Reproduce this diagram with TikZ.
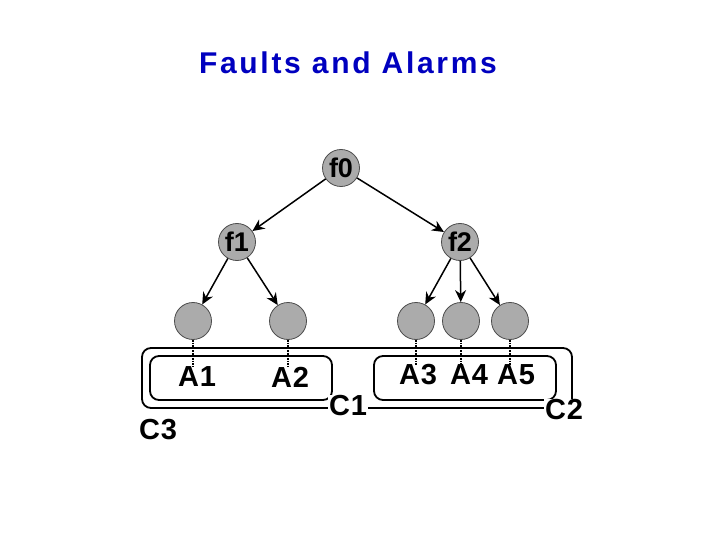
\documentclass[tikz,border=0pt]{standalone}
\usepackage{fontspec}
\setmainfont{Liberation Sans}
\usetikzlibrary{arrows.meta}
\begin{document}
\begin{tikzpicture}[x=1pt,y=-1pt,
 nd/.style={circle,fill=black!33,draw=black!70,line width=0.8pt,minimum size=37pt,inner sep=0pt,font=\bfseries\fontsize{27}{27}\selectfont},
 lab/.style={font=\bfseries\fontsize{29}{29}\selectfont\addfontfeature{LetterSpace=3},inner sep=0pt},
 arr/.style={-{Stealth[length=12pt,width=11pt]},line width=1.5pt},
 dt/.style={densely dotted,line width=1.6pt},
 box/.style={rounded corners=9pt,line width=1.8pt}]
\useasboundingbox (0,0) rectangle (720,540);
\node[font=\bfseries\fontsize{30}{30}\selectfont\addfontfeature{LetterSpace=9},text=blue!75!black] (title) at (348,63) {Faults and Alarms};
\node[nd] (f0) at (341,168) {f0};
\node[nd] (f1) at (237,242) {f1};
\node[nd] (f2) at (460,242) {f2};
\node[nd] (c1) at (193,321) {};
\node[nd] (c2) at (288,321) {};
\node[nd] (c3) at (416,321) {};
\node[nd] (c4) at (461,321) {};
\node[nd] (c5) at (510,321) {};
\draw[box] (142,348) rectangle (572,408);
\draw[box] (150,356) rectangle (332,400);
\draw[box] (374,356) rectangle (556,400);
\node[lab] (a1) at (197,377) {A1};
\node[lab] (a2) at (290,377) {A2};
\node[lab] (a3) at (418,375) {A3};
\node[lab] (a4) at (469,375) {A4};
\node[lab] (a5) at (516,375) {A5};
\node[lab,fill=white,inner sep=1pt] (k1) at (348,406) {C1};
\node[lab,fill=white,inner sep=1pt] (k2) at (564,410) {C2};
\node[lab] (k3) at (158,430) {C3};
\draw[arr] (f0) -- (f1);
\draw[arr] (f0) -- (f2);
\draw[arr] (f1) -- (c1);
\draw[arr] (f1) -- (c2);
\draw[arr] (f2) -- (c3);
\draw[arr] (f2) -- (c4);
\draw[arr] (f2) -- (c5);
\foreach \c/\a in {c1/a1,c2/a2,c3/a3,c4/a4,c5/a5}
  \draw[dt] (\c.south) -- (\c.south |- \a.north);
\end{tikzpicture}
\end{document}
